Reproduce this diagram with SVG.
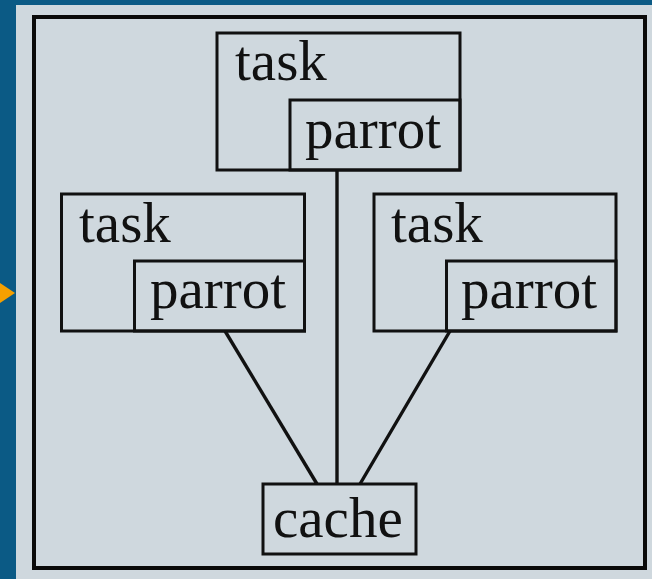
<svg xmlns="http://www.w3.org/2000/svg" width="652" height="579" viewBox="0 0 652 579">
  <style>
    .box { fill: none; stroke: #111; stroke-width: 3; }
    .label { font-family: "Liberation Serif", "Times New Roman", serif; font-size: 57px; fill: #111; }
    .link { stroke: #111; stroke-width: 3.4; fill: none; }
  </style>
  <!-- backdrop and panel -->
  <rect x="0" y="0" width="652" height="579" fill="#0b5a85"/>
  <rect x="16" y="5" width="636" height="574" fill="#cfd8de"/>
  <rect x="34" y="17" width="611" height="551" fill="none" stroke="#0a0a0a" stroke-width="4"/>
  <polygon points="0,283 15,293 0,303" fill="#f5a000"/>

  <g id="connectors">
    <line class="link" x1="337" y1="170" x2="337" y2="484"/>
    <line class="link" x1="225" y1="331" x2="317" y2="484"/>
    <line class="link" x1="450" y1="331" x2="360" y2="484"/>
  </g>

  <g id="task-top">
    <rect class="box" x="217" y="33" width="243" height="137"/>
    <text class="label" x="235" y="80">task</text>
    <g id="parrot-top">
      <rect class="box" x="290" y="100" width="170" height="70"/>
      <text class="label" x="305" y="148">parrot</text>
    </g>
  </g>

  <g id="task-left">
    <rect class="box" x="61.5" y="194" width="243" height="137"/>
    <text class="label" x="79" y="242">task</text>
    <g id="parrot-left">
      <rect class="box" x="134.5" y="261" width="170" height="70"/>
      <text class="label" x="150" y="308">parrot</text>
    </g>
  </g>

  <g id="task-right">
    <rect class="box" x="374" y="194" width="242" height="137"/>
    <text class="label" x="391" y="242">task</text>
    <g id="parrot-right">
      <rect class="box" x="446.5" y="261" width="169.5" height="70"/>
      <text class="label" x="461" y="308">parrot</text>
    </g>
  </g>

  <g id="cache">
    <rect class="box" x="263" y="484" width="153" height="70"/>
    <text class="label" x="273" y="537">cache</text>
  </g>
</svg>
